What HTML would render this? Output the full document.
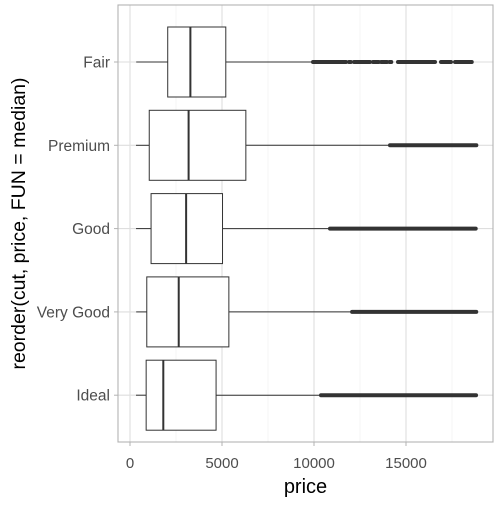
<!DOCTYPE html>
<html><head><meta charset="utf-8"><style>
body{margin:0;background:#fff;font-family:"Liberation Sans",sans-serif;}
svg text{font-family:"Liberation Sans",sans-serif;}
</style></head><body>
<svg id="c" width="504" height="504" xmlns="http://www.w3.org/2000/svg"></svg>
<script>
const categories=["Fair","Premium","Good","Very Good","Ideal"];
const lowW=[337,326,327,336,326];
const q1=[2050,1046,1145,912,878];
const med=[3282,3185,3050,2648,1810];
const q3=[5206,6296,5028,5373,4678];
const highW=[9900,14120,10850,12050,10350];
const outStart=[9946,14130,10870,12070,10380];
const outEnd=[18574,18823,18788,18818,18806];
const fairOutliers=[[9946,11739],[11900,12000],[12174,13043],[13207,13520],[13650,13967],[14100,14200],[14565,15435],[15489,16576],[16902,17446],[17663,18574]];
const xTicks=[0,5000,10000,15000];
const xTickLabels=["0","5000","10000","15000"];
const xMinor=[2500,7500,12500,17500];

const NS="http://www.w3.org/2000/svg",svg=document.getElementById('c');
const L=118,R=493,T=5,B=442;
const x=v=>130+v*0.0184;
const y=i=>62+i*83.3;
function mk(t,a,p){const e=document.createElementNS(NS,t);for(const k in a)e.setAttribute(k,a[k]);(p||svg).appendChild(e);return e;}
const bg=mk('rect',{x:L,y:T,width:R-L,height:B-T,fill:'#fff'});


xMinor.forEach(v=>{const l=mk('line',{x1:x(v),x2:x(v),y1:T,y2:B,stroke:'#ededed','stroke-width':0.6});

});
xTicks.forEach(v=>{const l=mk('line',{x1:x(v),x2:x(v),y1:T,y2:B,stroke:'#dedede','stroke-width':1.1});

});
categories.forEach((c,i)=>{const l=mk('line',{x1:L,x2:R,y1:y(i),y2:y(i),stroke:'#dedede','stroke-width':1.1});

});
categories.forEach((c,i)=>{
 const g=mk('g',{});
 
 
 const cy=y(i),h=35;
 mk('line',{x1:x(lowW[i]),x2:x(q1[i]),y1:cy,y2:cy,stroke:'#333','stroke-width':1},g);
 mk('line',{x1:x(q3[i]),x2:x(highW[i]),y1:cy,y2:cy,stroke:'#333','stroke-width':1},g);
 mk('rect',{x:x(q1[i]),y:cy-h,width:x(q3[i])-x(q1[i]),height:2*h,fill:'#fff',stroke:'#333','stroke-width':1},g);
 mk('line',{x1:x(med[i]),x2:x(med[i]),y1:cy-h,y2:cy+h,stroke:'#333','stroke-width':2},g);
 const segs=i===0?fairOutliers:[[outStart[i],outEnd[i]]];
 segs.forEach(s=>{const o=mk('line',{x1:x(s[0]),x2:x(s[1]),y1:cy,y2:cy,stroke:'#333','stroke-width':4,'stroke-linecap':'round'},g);
 
 });
 const t=mk('text',{x:110,y:cy+5.5,'text-anchor':'end','font-size':15.5,fill:'#4d4d4d'});t.textContent=c;
 
 
 mk('line',{x1:114,x2:118,y1:cy,y2:cy,stroke:'#b3b3b3'});
});
const br=mk('rect',{x:L,y:T,width:R-L,height:B-T,fill:'none',stroke:'#b3b3b3','stroke-width':1.1});


xTicks.forEach((v,i)=>{mk('line',{x1:x(v),x2:x(v),y1:B,y2:B+4,stroke:'#b3b3b3'});
 const t=mk('text',{x:x(v),y:468,'text-anchor':'middle','font-size':15,fill:'#4d4d4d'});t.textContent=xTickLabels[i];
 
 });
const xt=mk('text',{x:(L+R)/2,y:493,'text-anchor':'middle','font-size':20,fill:'#000'});xt.textContent='price';


const yt=mk('text',{x:0,y:0,'text-anchor':'middle','font-size':19.5,fill:'#000',transform:'translate(25,'+((T+B)/2)+') rotate(-90)'});yt.textContent='reorder(cut, price, FUN = median)';


</script>
</body></html>
